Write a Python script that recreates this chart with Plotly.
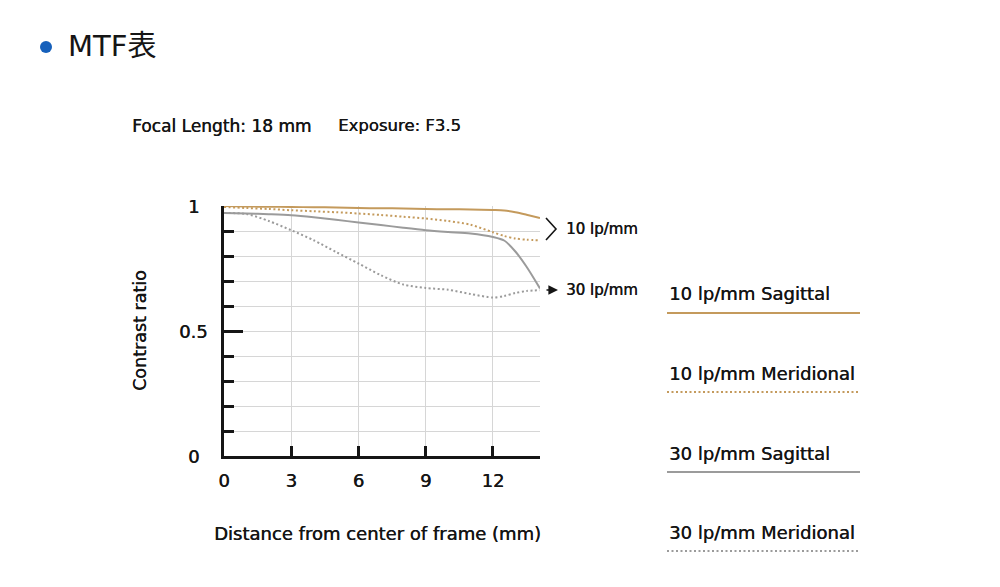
import plotly.graph_objects as go

# ---------------- data ----------------
distance_mm = [0, 1, 2, 3, 4, 5, 6, 7, 8, 9, 10, 11, 12, 12.5, 13, 13.5, 14.1]
mtf_10_sagittal = [1.000, 0.998, 0.997, 0.996, 0.995, 0.994, 0.992, 0.991, 0.990,
                   0.988, 0.987, 0.986, 0.984, 0.982, 0.975, 0.965, 0.952]
mtf_10_meridional = [0.996, 0.992, 0.988, 0.983, 0.979, 0.975, 0.970, 0.964, 0.957,
                     0.950, 0.940, 0.925, 0.895, 0.880, 0.870, 0.865, 0.863]
mtf_30_sagittal = [0.972, 0.970, 0.967, 0.963, 0.955, 0.945, 0.934, 0.924, 0.913,
                   0.903, 0.896, 0.890, 0.876, 0.862, 0.818, 0.757, 0.670]
mtf_30_meridional = [0.972, 0.968, 0.940, 0.903, 0.863, 0.816, 0.770, 0.723, 0.686,
                     0.672, 0.665, 0.648, 0.634, 0.640, 0.652, 0.660, 0.663]

x_tick_vals = [0, 3, 6, 9, 12, 14.1]
x_tick_text = ["0", "3", "6", "9", "12", ""]
y_tick_vals = [0, 0.5, 1]
y_tick_text = ["0", "0.5", "1"]

series_names = ["10 lp/mm Sagittal", "10 lp/mm Meridional",
                "30 lp/mm Sagittal", "30 lp/mm Meridional"]

GOLD = "#c49a5c"
GRAY = "#9b9b9b"
GRID = "#d6d6d6"
INK = "#151515"
FONT = "DejaVu Sans, Noto Sans CJK JP, sans-serif"
SHADOW = "0.4px 0 0 #151515"

series = [
    (series_names[0], mtf_10_sagittal, GOLD, "solid"),
    (series_names[1], mtf_10_meridional, GOLD, "2px,2.5px"),
    (series_names[2], mtf_30_sagittal, GRAY, "solid"),
    (series_names[3], mtf_30_meridional, GRAY, "2px,2.5px"),
]

fig = go.Figure()
for name, vals, col, dash in series:
    fig.add_trace(go.Scatter(
        x=distance_mm, y=vals, mode="lines", name=name,
        line=dict(color=col, width=2, dash=dash, shape="spline", smoothing=0.8),
        showlegend=False, cliponaxis=False,
    ))

# plot area geometry (pixels)
L, R, T, B = 224, 540, 206, 456
W, H = 1000, 587


def px(x):
    return (x - L) / (R - L)


def py(y):
    return (B - y) / (B - T)


def tf(size):
    return dict(size=size, family=FONT, color=INK, shadow=SHADOW)


fig.update_layout(
    width=W, height=H,
    margin=dict(l=L, r=W - R, t=T, b=H - B),
    paper_bgcolor="white", plot_bgcolor="white",
    font=dict(family=FONT, color=INK),
    xaxis=dict(
        range=[0, 14.1], tickvals=x_tick_vals, ticktext=x_tick_text,
        showgrid=True, gridcolor=GRID, gridwidth=1,
        showline=True, linecolor=INK, linewidth=3,
        ticks="inside", ticklen=10, tickwidth=3, tickcolor=INK,
        tickfont=tf(18),
        ticklabelstandoff=6, zeroline=False, fixedrange=True,
    ),
    yaxis=dict(
        range=[0, 1], tickvals=y_tick_vals, ticktext=[""] * len(y_tick_vals),
        showgrid=True, gridcolor=GRID, gridwidth=1,
        showline=True, linecolor=INK, linewidth=3,
        ticks="inside", ticklen=19, tickwidth=3, tickcolor=INK,
        zeroline=False, fixedrange=True,
        minor=dict(dtick=0.1, ticks="inside", ticklen=10, tickwidth=3,
                   tickcolor=INK, showgrid=True, gridcolor=GRID, gridwidth=1),
    ),
)

ann = []
# y tick labels (centred, as in the reference)
for v, t in zip(y_tick_vals, y_tick_text):
    ann.append(dict(x=px(193), y=v, yref="y", text=t, xanchor="center",
                    yanchor="middle", font=tf(18)))
# title
fig.add_shape(type="circle", xref="paper", yref="paper",
              x0=px(40), x1=px(52), y0=py(53), y1=py(41),
              fillcolor="#1660bb", line=dict(width=0))
ann.append(dict(x=px(66), y=py(46), text="MTF表", xanchor="left", yanchor="middle",
                font=dict(size=29, family=FONT, color=INK)))
# header
ann.append(dict(x=px(130), y=py(126), text="Focal Length: 18 mm", xanchor="left",
                yanchor="middle", font=tf(17)))
ann.append(dict(x=px(336), y=py(126), text="Exposure: F3.5", xanchor="left",
                yanchor="middle", font=tf(16.5)))
# axis titles
ann.append(dict(x=px(140), y=py(331), text="Contrast ratio", textangle=-90,
                xanchor="center", yanchor="middle", font=tf(17.5)))
ann.append(dict(x=px(377), y=py(533), text="Distance from center of frame (mm)",
                xanchor="center", yanchor="middle", font=tf(18)))
# right side labels
ann.append(dict(x=px(564), y=py(229), text="10 lp/mm", xanchor="left", yanchor="middle",
                font=tf(15)))
ann.append(dict(x=px(564), y=py(290), text="30 lp/mm", xanchor="left", yanchor="middle",
                font=tf(15)))
fig.add_shape(type="path", xref="paper", yref="paper",
              path=f"M {px(546)},{py(218)} L {px(556)},{py(229)} L {px(546)},{py(240)}",
              line=dict(color=INK, width=1.6))
ann.append(dict(x=px(558), y=py(290), ax=-13, ay=0, axref="pixel", ayref="pixel",
                showarrow=True, arrowhead=2, arrowsize=1.2,
                arrowwidth=1.6, arrowcolor=INK, text=""))

# legend block
legend_rows = [(293, 313), (373, 392), (453, 472), (532, 551)]
for (name, vals, col, dash), (ty, ly) in zip(series, legend_rows):
    ann.append(dict(x=px(667), y=py(ty), text=name, xanchor="left", yanchor="middle",
                    font=tf(18)))
    fig.add_shape(type="line", xref="paper", yref="paper",
                  x0=px(667), x1=px(860), y0=py(ly), y1=py(ly),
                  line=dict(color=col, width=2, dash=dash))

for a in ann:
    a.setdefault("xref", "paper")
    a.setdefault("yref", "paper")
    a.setdefault("showarrow", False)
fig.update_layout(annotations=ann)

fig.write_html("out.html", config={"displayModeBar": False},
               post_script="document.body.style.margin='0';")
